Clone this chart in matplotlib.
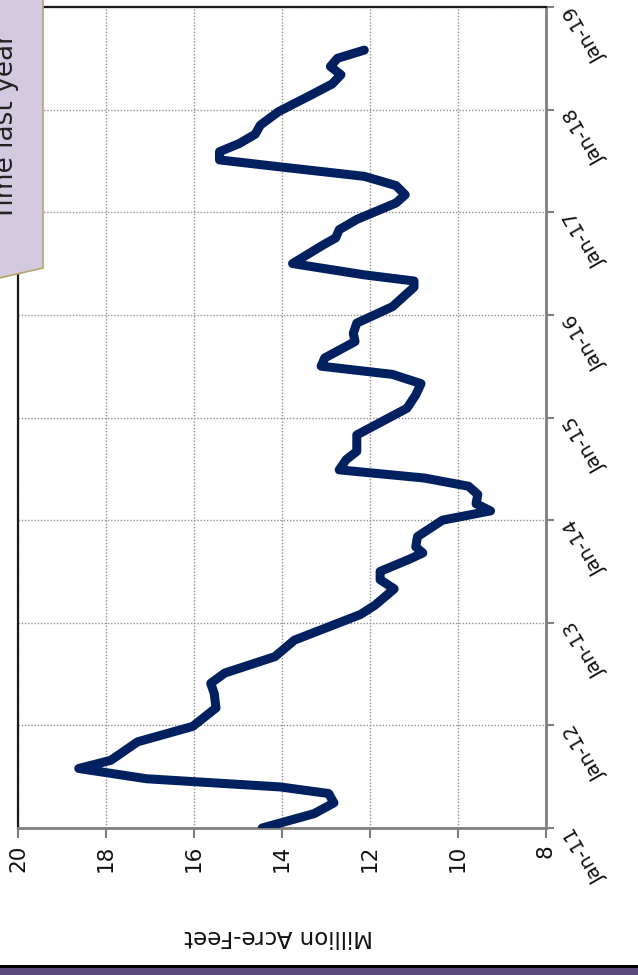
import matplotlib
matplotlib.use("Agg")
import matplotlib.pyplot as plt
from matplotlib.patches import Polygon, Rectangle

# Data: fractional years since Jan-2011 and storage (million acre-feet)
years_since_2011 = [0.00, 0.14, 0.245, 0.336, 0.40, 0.48, 0.58, 0.66, 0.84, 0.99,
                    1.17, 1.31, 1.41, 1.51, 1.67, 1.83, 2.08, 2.17, 2.33, 2.42,
                    2.50, 2.62, 2.68, 2.74, 2.84, 3.00, 3.09, 3.16, 3.25, 3.33,
                    3.41, 3.49, 3.59, 3.67, 3.83, 4.09, 4.22, 4.33, 4.42, 4.50,
                    4.58, 4.74, 4.82, 4.92, 5.08, 5.27, 5.33, 5.39, 5.50, 5.68,
                    5.75, 5.83, 5.93, 6.09, 6.17, 6.26, 6.35, 6.44, 6.51, 6.59,
                    6.67, 6.76, 6.85, 6.98, 7.14, 7.25, 7.34, 7.42, 7.50, 7.58]
storage_maf = [14.45, 13.27, 12.82, 12.94, 14.04, 17.08, 18.62, 17.89, 17.28, 16.03,
               15.50, 15.54, 15.62, 15.30, 14.16, 13.72, 12.22, 11.89, 11.45, 11.77,
               11.77, 11.10, 10.80, 10.96, 10.92, 10.35, 9.26, 9.59, 9.55, 9.76,
               10.76, 12.70, 12.54, 12.30, 12.30, 11.16, 10.96, 10.84, 11.49, 13.11,
               13.03, 12.34, 12.38, 12.30, 11.49, 11.00, 11.00, 12.13, 13.76, 13.07,
               12.78, 12.70, 12.30, 11.41, 11.20, 11.41, 12.13, 14.00, 15.42, 15.42,
               14.97, 14.61, 14.49, 14.08, 13.35, 12.86, 12.66, 12.90, 12.74, 12.13]
date_ticks = [2011, 2012, 2013, 2014, 2015, 2016, 2017, 2018, 2019]
date_labels = ["Jan-11", "Jan-12", "Jan-13", "Jan-14", "Jan-15",
               "Jan-16", "Jan-17", "Jan-18", "Jan-19"]
value_ticks = [20, 18, 16, 14, 12, 10, 8]
value_labels = ["20", "18", "16", "14", "12", "10", "8"]
y_label = "Million Acre-Feet"
callout_text = "Time last year"

W, H = 638, 975
fig = plt.figure(figsize=(W / 100, H / 100), dpi=100)
fig.patch.set_facecolor("white")

def fx(px):
    return px / W

def fy(py):
    return 1 - py / H

left, right, top, bottom = 18, 546, 7, 828
ax = fig.add_axes([fx(left), fy(bottom), fx(right - left), (bottom - top) / H])

dates = [2011 + t for t in years_since_2011]
ax.plot(storage_maf, dates, color="#002060", lw=6.5, solid_joinstyle="round",
        solid_capstyle="round", zorder=3)

ax.set_xlim(20, 8)
ax.set_ylim(2011, 2019)
ax.set_xticks(value_ticks)
ax.set_xticklabels(value_labels, rotation=90, fontsize=15.5, family="DejaVu Sans",
                   va="top", ha="center", color="#111111")
ax.yaxis.tick_right()
ax.set_yticks(date_ticks)
ax.set_yticklabels(date_labels, fontsize=14, family="DejaVu Sans", color="#111111")
for lab in ax.get_yticklabels():
    lab.set_rotation(120)
    lab.set_rotation_mode("anchor")
    lab.set_ha("right")
    lab.set_va("center")

ax.grid(True, color="#909090", linestyle=(0, (1, 1.3)), lw=1.0)
ax.tick_params(axis="x", direction="out", length=7, width=1.5, color="#808080", pad=5)
ax.tick_params(axis="y", direction="out", length=6, width=1.5, color="#808080", pad=11)

for side in ["bottom", "right"]:
    ax.spines[side].set_color("#808080")
    ax.spines[side].set_linewidth(2)
for side in ["top", "left"]:
    ax.spines[side].set_color("#1a1a1a")
    ax.spines[side].set_linewidth(1.6)

fig.text(fx(279), fy(936), y_label, rotation=180, ha="center", va="center",
         fontsize=16.5, family="DejaVu Sans", color="#111111")

# Callout box (clipped by left edge)
box = Polygon([(fx(-5), fy(-5)), (fx(43), fy(-5)), (fx(43), fy(268)), (fx(-5), fy(279))],
              closed=True, transform=fig.transFigure, facecolor="#d3cae2",
              edgecolor="#b5a56a", lw=1.2, zorder=5)
fig.add_artist(box)
fig.text(fx(13), fy(127), callout_text, rotation=90, rotation_mode="anchor",
         ha="center", va="baseline", fontsize=19, family="DejaVu Sans",
         color="#222222", zorder=6)

# Bottom decorative bars
fig.add_artist(Rectangle((0, fy(968)), 1, 3 / H, transform=fig.transFigure,
                         facecolor="#000000", edgecolor="none"))
fig.add_artist(Rectangle((0, 0), 1, fy(968), transform=fig.transFigure,
                         facecolor="#5c4a7c", edgecolor="none"))

fig.savefig("out.png", dpi=100)
